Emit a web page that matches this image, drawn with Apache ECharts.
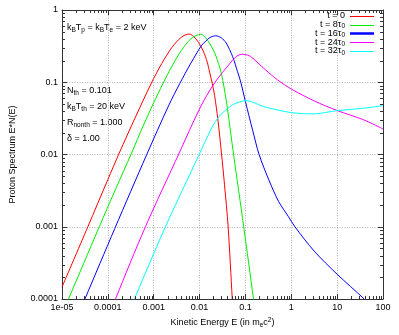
<!DOCTYPE html>
<html><head><meta charset="utf-8">
<script src="https://cdn.jsdelivr.net/npm/echarts@6/dist/echarts.min.js"></script>
<style>html,body{margin:0;padding:0;background:#fff}#c{width:399px;height:335px}</style>
</head><body><div id="c"></div>
<script>
// ---- tick labels ----
const xTickLabels = ['1e-05','0.0001','0.001','0.01','0.1','1','10','100'];
const yTickLabels = ['0.0001','0.001','0.01','0.1','1'];

// ---- series names / legend text ----
const seriesNames = ['t = 0','t = 8τ0','t = 16τ0','t = 24τ0','t = 32τ0'];
const legendRich = ['{n|t = 0}','{n|t = 8τ}{s|0}','{n|t = 16τ}{s|0}','{n|t = 24τ}{s|0}','{n|t = 32τ}{s|0}'];
const seriesColors = ['#ff0000','#00ee00','#0000ff','#ff00ff','#00ffff'];

// ---- data (E in m_e c^2, E*N(E)) ----
const redE = [1e-5, 3.66e-5, 1e-4, 1.75e-4, 4e-4, 8.9e-4, 0.0015, 0.0025, 0.004, 0.0059, 0.008, 0.0111, 0.0142, 0.0167, 0.019, 0.0213, 0.025, 0.03, 0.035, 0.042, 0.0516, 0.056];
const redN = [1.46e-4, 0.001, 0.0045, 0.0103, 0.033, 0.0975, 0.182, 0.304, 0.42, 0.465, 0.41, 0.3, 0.205, 0.135, 0.095, 0.065, 0.031, 0.0105, 0.0038, 0.001, 0.0001, 0.00004];

const greenE = [1.2e-5, 1.39e-5, 6.28e-5, 1.5e-4, 3.23e-4, 6e-4, 0.001, 0.00158, 0.0025, 0.004, 0.0065, 0.0106, 0.0154, 0.0213, 0.0273, 0.0322, 0.036, 0.0398, 0.0553, 0.0918, 0.15, 0.165];
const greenN = [8e-5, 1e-4, 0.00095, 0.0034, 0.0102, 0.0256, 0.052, 0.095, 0.167, 0.275, 0.4, 0.462, 0.37, 0.255, 0.164, 0.105, 0.07, 0.047, 0.0099, 0.001, 0.0001, 0.000064];

const blueE = [2.8e-5, 3.16e-5, 1.42e-4, 7e-4, 0.0021, 0.0037, 0.0065, 0.0111, 0.0133, 0.0167, 0.0225, 0.03, 0.038, 0.0527, 0.0673, 0.0792, 0.1, 0.143, 0.1986, 0.324, 0.531, 0.867, 1.2, 3.16, 10, 39, 45];
const blueN = [8.4e-5, 1e-4, 0.00095, 0.0099, 0.047, 0.096, 0.185, 0.325, 0.365, 0.415, 0.44, 0.41, 0.35, 0.226, 0.14, 0.1, 0.054, 0.0219, 0.01, 0.00445, 0.00223, 0.00138, 0.001, 0.00046, 0.00022, 0.0001, 0.00009];

const magentaE = [1.3e-4, 1.47e-4, 6.6e-4, 0.0036, 0.0102, 0.021, 0.0485, 0.065, 0.0857, 0.11, 0.13, 0.18, 0.275, 0.5, 1.02, 3.2, 10.1, 37.4, 100];
const magentaN = [7.6e-5, 1e-4, 0.001, 0.0105, 0.044, 0.097, 0.19, 0.23, 0.244, 0.238, 0.227, 0.19, 0.148, 0.108, 0.08, 0.055, 0.0405, 0.0303, 0.0226];

const cyanE = [3.3e-4, 3.79e-4, 0.0018, 0.0098, 0.0123, 0.0195, 0.0256, 0.035, 0.0455, 0.0535, 0.075, 0.104, 0.15, 0.25, 1.0, 3.0, 10.1, 37.4, 100];
const cyanN = [8.1e-5, 1e-4, 0.001, 0.01, 0.0137, 0.025, 0.0325, 0.04, 0.0455, 0.049, 0.0535, 0.0556, 0.0525, 0.046, 0.038, 0.0365, 0.0405, 0.0437, 0.0475];

const allE = [redE, greenE, blueE, magentaE, cyanE];
const allN = [redN, greenN, blueN, magentaN, cyanN];

// ---- axis ranges ----
const xMin = 1e-5, xMax = 100, yMin = 1e-4, yMax = 1;
const xMinorDecades = [-5,-4,-3,-2,-1,0,1];
const yMinorDecades = [-4,-3,-2,-1];
const minorMult = [2,3,4,5,6,7,8,9];

const FONT = 'Liberation Sans, Arial, Helvetica, sans-serif';
const FRAME = '#333';

const chart = echarts.init(document.getElementById('c'), null, {renderer: 'canvas'});

function zip(a, b) { return a.map((v, i) => [v, b[i]]); }

const lineSeries = seriesNames.map((n, i) => ({
  name: n,
  type: 'line',
  xAxisIndex: 0, yAxisIndex: 0,
  data: zip(allE[i], allN[i]),
  symbol: 'none',
  smooth: 0.3,
  lineStyle: {color: seriesColors[i], width: 1},
  itemStyle: {color: seriesColors[i]},
  clip: true,
  z: 3
}));

const minorTickSeries = {
  type: 'custom',
  xAxisIndex: 0, yAxisIndex: 0,
  silent: true,
  clip: false,
  z: 6,
  data: [[0.001, 0.01]],
  renderItem: function (params, api) {
    const kids = [];
    const bl = api.coord([xMin, yMin]);
    const tr = api.coord([xMax, yMax]);
    const L = 3;
    xMinorDecades.forEach(d => minorMult.forEach(m => {
      const p = api.coord([m * Math.pow(10, d), yMin]);
      const x = Math.round(p[0]) + 0.5;
      kids.push({type: 'line', shape: {x1: x, y1: bl[1], x2: x, y2: bl[1] - L}, style: {stroke: FRAME, lineWidth: 1}});
      kids.push({type: 'line', shape: {x1: x, y1: tr[1], x2: x, y2: tr[1] + L}, style: {stroke: FRAME, lineWidth: 1}});
    }));
    yMinorDecades.forEach(d => minorMult.forEach(m => {
      const p = api.coord([xMin, m * Math.pow(10, d)]);
      const y = Math.round(p[1]) + 0.5;
      kids.push({type: 'line', shape: {x1: bl[0], y1: y, x2: bl[0] + L, y2: y}, style: {stroke: FRAME, lineWidth: 1}});
      kids.push({type: 'line', shape: {x1: tr[0], y1: y, x2: tr[0] - L, y2: y}, style: {stroke: FRAME, lineWidth: 1}});
    }));
    return {type: 'group', children: kids};
  }
};

const subRich = {
  s: {fontSize: 6.5, verticalAlign: 'bottom', lineHeight: 12, fontFamily: FONT, color: '#000'},
  u: {fontSize: 6.5, verticalAlign: 'top', lineHeight: 12, fontFamily: FONT, color: '#000'}
};

function annot(text, top) {
  return {
    type: 'text', left: 67, top: top,
    style: {text: text, fontSize: 9, fontFamily: FONT, fill: '#000', lineHeight: 12, rich: subRich}
  };
}

// key (legend) drawn as text + line samples, top-right inside the plot
const keyRight = 345, keyLineX1 = 350, keyLineX2 = 374, keyTop = 15.7, keyStep = 8.8;
const keyRich = {
  n: {fontSize: 9, lineHeight: 11, fontFamily: FONT, fill: '#000'},
  s: {fontSize: 6.5, verticalAlign: 'bottom', lineHeight: 11, fontFamily: FONT, fill: '#000'}
};
const keyGraphics = [];
seriesNames.forEach((n, i) => {
  const y = keyTop + keyStep * i;
  keyGraphics.push({
    type: 'text', x: keyRight, y: y, silent: true,
    style: {text: legendRich[i], align: 'right', verticalAlign: 'middle', fontSize: 9, fontFamily: FONT,
      fill: '#000', lineHeight: 11, rich: keyRich}
  });
  keyGraphics.push({
    type: 'line', silent: true,
    shape: {x1: keyLineX1, y1: Math.round(y) + 0.5, x2: keyLineX2, y2: Math.round(y) + 0.5},
    style: {stroke: seriesColors[i], lineWidth: i === 2 ? 2.5 : 1}
  });
});

const option = {
  animation: false,
  backgroundColor: '#fff',
  grid: {left: 55, right: 16, top: 10, bottom: 36, containLabel: false},
  xAxis: [{
    type: 'log', logBase: 10, min: xMin, max: xMax, position: 'bottom',
    name: 'Kinetic Energy E (in m{s|e}c{u|2})',
    nameLocation: 'middle', nameGap: 15,
    nameTextStyle: {fontSize: 9, fontFamily: FONT, color: '#000', lineHeight: 12, rich: subRich},
    axisLine: {show: true, lineStyle: {color: FRAME, width: 1}},
    axisTick: {show: true, inside: true, length: 5, lineStyle: {color: FRAME}},
    axisLabel: {fontSize: 9, fontFamily: FONT, color: '#000', margin: 4,
      formatter: v => xTickLabels[Math.round(Math.log10(v)) + 5]},
    splitLine: {show: true, lineStyle: {color: '#b4b4b4', type: [1, 1.5], width: 1}},
    minorTick: {show: false}
  }, {
    type: 'log', logBase: 10, min: xMin, max: xMax, position: 'top',
    axisLine: {show: true, lineStyle: {color: FRAME, width: 1}},
    axisTick: {show: true, inside: true, length: 5, lineStyle: {color: FRAME}},
    axisLabel: {show: false},
    splitLine: {show: false}
  }],
  yAxis: [{
    type: 'log', logBase: 10, min: yMin, max: yMax, position: 'left',
    name: 'Proton Spectrum E*N(E)',
    nameLocation: 'middle', nameGap: 45, nameRotate: 90,
    nameTextStyle: {fontSize: 9, fontFamily: FONT, color: '#000'},
    axisLine: {show: true, lineStyle: {color: FRAME, width: 1}},
    axisTick: {show: true, inside: true, length: 5, lineStyle: {color: FRAME}},
    axisLabel: {fontSize: 9, fontFamily: FONT, color: '#000', margin: 4,
      formatter: v => yTickLabels[Math.round(Math.log10(v)) + 4]},
    splitLine: {show: true, lineStyle: {color: '#b4b4b4', type: [1, 1.5], width: 1}}
  }, {
    type: 'log', logBase: 10, min: yMin, max: yMax, position: 'right',
    axisLine: {show: true, lineStyle: {color: FRAME, width: 1}},
    axisTick: {show: true, inside: true, length: 5, lineStyle: {color: FRAME}},
    axisLabel: {show: false},
    splitLine: {show: false}
  }],
  graphic: [
    annot('k{s|B}T{s|p} = k{s|B}T{s|e} = 2 keV', 21.5),
    annot('N{s|th} = 0.101', 84.5),
    annot('k{s|B}T{s|th} = 20 keV', 100.5),
    annot('R{s|nonth} = 1.000', 116.5),
    annot('δ = 1.00', 132.5)
  ].concat(keyGraphics),
  series: lineSeries.concat([minorTickSeries])
};

chart.setOption(option);
</script>
</body></html>
